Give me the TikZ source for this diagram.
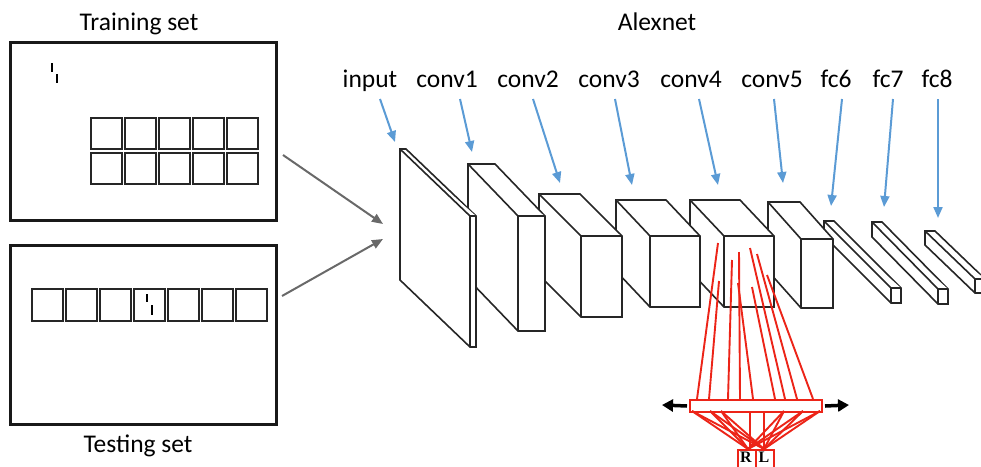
\documentclass[tikz,border=0pt]{standalone}
\usepackage{fontspec}
\setmainfont{Carlito}
\newfontfamily\rlfont{Liberation Serif}
\usetikzlibrary{arrows.meta}
\definecolor{labelblue}{RGB}{91,155,213}
\definecolor{fanred}{RGB}{236,36,24}
\definecolor{flowgray}{RGB}{105,105,105}

% cuboid seen from the front-right: front face top-left (#1,#2), size #3 x #4,
% receding up-left by (#5,#6)
\newcommand\layerbox[6]{%
  \filldraw[cube] (#1-#5,#2-#6) -- (#1+#3-#5,#2-#6) -- (#1+#3,#2) -- (#1+#3,#2+#4)
    -- (#1,#2+#4) -- (#1-#5,#2+#4-#6) -- cycle;
  \draw[cube] (#1-#5,#2-#6) -- (#1,#2) -- (#1+#3,#2) (#1,#2) -- (#1,#2+#4);
}

\begin{document}
\begin{tikzpicture}[x=1pt,y=-1pt,
  frame/.style={draw=black!90, line width=2.5pt, inner sep=0pt},
  cell/.style={draw=black!85, line width=2pt},
  cube/.style={draw=black!85, line width=1.6pt, line join=miter, fill=white},
  tickmark/.style={draw=black, line width=1.8pt},
  bigtext/.style={font=\fontsize{25.5}{30}\selectfont, anchor=base, inner sep=0pt},
  bluearrow/.style={draw=labelblue, line width=2pt, -{Triangle[length=11pt,width=9pt]}},
  grayarrow/.style={draw=flowgray, line width=2pt, -{Triangle[length=11pt,width=9pt]}},
  blackarrow/.style={draw=black, line width=3.5pt, -{Triangle[length=11pt,width=12pt]}},
  fan/.style={draw=fanred, line width=1.9pt},
  fanbox/.style={draw=fanred, line width=2pt, fill=white, inner sep=0pt},
  rltext/.style={anchor=base, inner sep=0pt, font=\rlfont\bfseries\fontsize{16}{18}\selectfont},
]
\useasboundingbox (0,0) rectangle (981,466);
\clip (0,0) rectangle (981,466);

% ---- titles ----
\node[bigtext] (traintitle) at (139,30) {Training set};
\node[bigtext] (alextitle) at (657,30) {Alexnet};
\node[bigtext] (testtitle) at (138,452) {Testing set};

% ---- training set ----
\node[frame, anchor=north west, minimum width=266pt, minimum height=178pt] (trainbox) at (9,41) {};
\foreach \i in {0,...,4} {
  \draw[cell] (91+34*\i,118) rectangle ++(31,31);
  \draw[cell] (91+34*\i,153) rectangle ++(31,31);
}
\draw[tickmark] (52,63) -- (52,72) (57,74) -- (57,83);

% ---- testing set ----
\node[frame, anchor=north west, minimum width=266pt, minimum height=179pt] (testbox) at (9,244) {};
\foreach \i in {0,...,6}
  \draw[cell] (32+34*\i,289) rectangle ++(31,32);
\draw[tickmark] (147,294) -- (147,302) (152,305) -- (152,315);

% ---- flow into the network ----
\coordinate (trainout) at (283,155);
\coordinate (testout) at (282,296);
\coordinate (netin1) at (383,224);
\coordinate (netin2) at (383,239);
\draw[grayarrow] (trainout) -- (netin1);
\draw[grayarrow] (testout) -- (netin2);

% ---- layers, drawn back to front ----
\layerbox{975}{279}{10}{14}{50}{48}   % fc8
\layerbox{938}{289}{10}{15}{66}{67}   % fc7
\layerbox{891}{288}{10}{15}{67}{67}   % fc6
\layerbox{801}{239}{32}{69}{33}{37}   % conv5
\layerbox{724}{236}{50}{71}{34}{36}   % conv4
\layerbox{650}{236}{50}{71}{34}{36}   % conv3
\layerbox{581}{236}{41}{81}{42}{42}   % conv2
\layerbox{518}{216}{27}{115}{50}{52}  % conv1
\layerbox{470}{216}{6}{131}{70}{67}   % input

% ---- layer labels and pointers ----
\foreach \name/\lx/\tx/\hx/\hy in {input/370/380/395/142, conv1/447/460/472/152,
    conv2/528/533/560/183, conv3/609/615/632/185, conv4/691/699/718/185,
    conv5/772/774/783/183, fc6/836/842/831/206, fc7/888/893/884/207, fc8/937/938/938/218} {
  \node[bigtext] (lbl-\name) at (\lx,87) {\name};
  \coordinate (tail-\name) at (\tx,99);
  \coordinate (head-\name) at (\hx,\hy);
  \draw[bluearrow] (tail-\name) -- (head-\name);
}

% ---- readout fan from conv4 ----
\node[fanbox, anchor=north west, minimum width=132pt, minimum height=12pt] (bar) at (689,399) {};
\node[fanbox, anchor=north west, minimum width=18pt, minimum height=22pt] (rbox) at (737,449) {};
\node[fanbox, anchor=north west, minimum width=18pt, minimum height=22pt] (lbox) at (755,449) {};
\node[rltext] (rlabel) at (746,462.5) {R};
\node[rltext] (llabel) at (764,462.5) {L};

\foreach \ux/\uy/\bx in {718/243/697, 719/281/709, 732/260/728, 739/252/740, 738/283/753,
    750/248/785, 752/287/775, 757/254/797, 767/275/813}
  \draw[fan] (\ux,\uy) -- (\bx,399);

\foreach \bx in {692,710,721,784,803,820} {
  \draw[fan] (\bx,411) -- (748,449);
  \draw[fan] (\bx,411) -- (764,449);
}
\draw[fan] (750,411) -- (750,449);
\draw[fan] (764,411) -- (764,449);

% ---- shift arrows ----
\coordinate (leftend) at (662,405);
\coordinate (rightend) at (849,405);
\draw[blackarrow] (bar.west) ++(-2,0) -- (leftend);
\draw[blackarrow] (bar.east) ++(2,0) -- (rightend);
\end{tikzpicture}
\end{document}
